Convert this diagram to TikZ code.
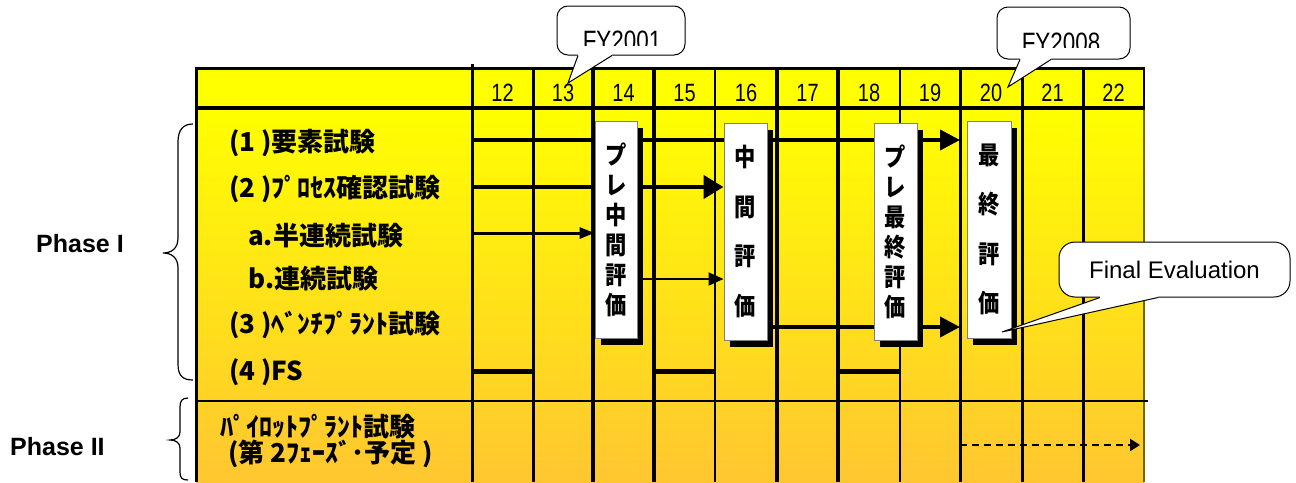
\documentclass[tikz,border=0pt]{standalone}
\usepackage{fontspec}
\setmainfont{Liberation Sans}
\newfontfamily\jpfont{Noto Sans CJK JP}
\newfontfamily\jpboxfont{Noto Sans CJK JP}[FakeStretch=0.85]
\newfontfamily\hdrfont{Liberation Sans}[FakeStretch=0.8]
\usetikzlibrary{arrows.meta,shadows,calc}
\pgfdeclarelayer{gridlayer}
\pgfdeclarelayer{arrowlayer}
\pgfsetlayers{gridlayer,arrowlayer,main}
\definecolor{ytop}{HTML}{FFFF00}
\definecolor{ybot}{HTML}{FFC631}
\definecolor{edgeolive}{HTML}{6B6B00}
\begin{document}
\begin{tikzpicture}[x=1pt,y=-1pt,
  gthick/.style={line width=4pt},
  gmid/.style={line width=3pt},
  gthin/.style={line width=1.5pt},
  hdrnum/.style={font=\hdrfont\fontsize{25}{25}\selectfont, anchor=base, inner sep=0pt},
  rowlabel/.style={font=\jpfont\bfseries\fontsize{26}{30}\selectfont, anchor=west, inner sep=0pt},
  phaselabel/.style={font=\bfseries\fontsize{25}{25}\selectfont, anchor=base west, inner sep=0pt},
  evalbox/.style={draw=gray, line width=1pt, fill=white, minimum width=43pt, minimum height=217pt,
    inner sep=0pt, align=center,
    drop shadow={shadow xshift=6pt, shadow yshift=-7pt, fill=black, opacity=1}},
  boxtight/.style={font=\jpboxfont\bfseries\fontsize{25}{30}\selectfont},
  boxwide/.style={font=\jpboxfont\bfseries\fontsize{25}{49.5}\selectfont},
  callout/.style={draw=black, line width=1pt, fill=white, rounded corners=11pt, inner sep=0pt},
  bigarrow/.style={line width=4pt, -{Triangle[length=20pt,width=20pt]}},
  midarrow/.style={line width=4.5pt, -{Triangle[length=20pt,width=23pt]}},
  smallarrow/.style={line width=3pt, -{Triangle[length=15pt,width=11pt]}},
  thinarrow/.style={line width=2pt, -{Triangle[length=15pt,width=13pt]}},
  dasharrow/.style={line width=2.5pt, dash pattern=on 7pt off 5pt, -{Triangle[length=10pt,width=12pt]}},
  fsbar/.style={line width=5pt}
]
\useasboundingbox (0,0) rectangle (1296,482);
\begin{pgfonlayer}{gridlayer}
% backgrounds
\fill[ytop] (196,68) rectangle (1144,108);
\shade[top color=ytop, bottom color=ybot] (196,108) rectangle (1144,482);
% vertical grid lines
\draw[gmid] (472,64) -- (472,482);
\draw[gmid] (533,68) -- (533,482);
\draw[gthick] (593,68) -- (593,482);
\draw[gthick] (654,68) -- (654,482);
\draw[gthin] (715,68) -- (715,482);
\draw[gthick] (777,68) -- (777,482);
\draw[line width=3.5pt] (838,68) -- (838,482);
\draw[gthin] (900,68) -- (900,482);
\draw[gmid] (960,68) -- (960,482);
\draw[gmid] (1022,68) -- (1022,482);
\draw[gmid] (1083,68) -- (1083,482);
\draw[line width=2pt] (1144,68) -- (1144,108);
\draw[line width=1.2pt, edgeolive] (1144,108) -- (1144,482);
% horizontal lines and border
\draw[line width=3pt] (196,68) -- (1145,68);
\draw[line width=4pt] (196,108) -- (1145,108);
\draw[line width=2.7pt] (196,401) -- (1148,401);
\draw[line width=3pt] (196,66.5) -- (196,482);
% FS bars
\draw[fsbar] (472,371) -- (533,371);
\draw[fsbar] (654,371) -- (715,371);
\draw[fsbar] (838,371) -- (900,371);
\end{pgfonlayer}
% header numbers
\node[hdrnum] (h12) at (502.5,101) {12};
\node[hdrnum] (h13) at (563,101) {13};
\node[hdrnum] (h14) at (623.5,101) {14};
\node[hdrnum] (h15) at (684.5,101) {15};
\node[hdrnum] (h16) at (746,101) {16};
\node[hdrnum] (h17) at (807.5,101) {17};
\node[hdrnum] (h18) at (869,101) {18};
\node[hdrnum] (h19) at (930,101) {19};
\node[hdrnum] (h20) at (991,101) {20};
\node[hdrnum] (h21) at (1052.5,101) {21};
\node[hdrnum] (h22) at (1113.5,101) {22};
% arrow start/end coordinates
\coordinate (s1) at (472,140);
\coordinate (e1) at (960,140);
\coordinate (s2) at (472,187);
\coordinate (sa) at (472,233);
\coordinate (sb) at (643,279);
\coordinate (s3) at (773,327);
\coordinate (e3) at (960,327);
\coordinate (d1) at (960,445);
\coordinate (d2) at (1140,445);
% evaluation boxes
\node[evalbox, boxtight, minimum width=42pt] (b1) at (616,229.5) {プ\\レ\\中\\間\\評\\価};
\node[evalbox, boxwide] (b2) at (745.5,231.5) {中\\間\\評\\価};
\node[evalbox, boxtight] (b3) at (895.5,231.5) {プ\\レ\\最\\終\\評\\価};
\node[evalbox, boxwide, minimum width=44pt] (b4) at (989,229.5) {最\\終\\評\\価};
% arrows (under the boxes)
\begin{pgfonlayer}{arrowlayer}
\draw[bigarrow] (s1) -- (e1);
\draw[midarrow] (s2) -- (b2.west |- s2);
\draw[smallarrow] (sa) -- (b1.west |- sa);
\draw[thinarrow] (sb) -- (b2.west |- sb);
\draw[bigarrow] (s3) -- (e3);
\draw[dasharrow] (d1) -- (d2);
\end{pgfonlayer}
% row labels
\node[rowlabel] (l1) at (229,143.5) {(1 )要素試験};
\node[rowlabel] (l2) at (229,189) {(2 )ﾌﾟﾛｾｽ確認試験};
\node[rowlabel] (la) at (248,236) {a.半連続試験};
\node[rowlabel] (lb) at (248,279) {b.連続試験};
\node[rowlabel] (l3) at (229,325) {(3 )ﾍﾞﾝﾁﾌﾟﾗﾝﾄ試験};
\node[rowlabel] (l4) at (229,372) {(4 )FS};
\node[rowlabel] (p1) at (220,427) {ﾊﾟｲﾛｯﾄﾌﾟﾗﾝﾄ試験};
\node[rowlabel] (p2) at (228,454) {(第 2ﾌｪｰｽﾞ･予定 )};
% braces
\draw[line width=1.2pt] (193,124) .. controls (183,124) and (178,130) .. (178,142) -- (178,238)
  .. controls (178,248) and (172,253) .. (163,253)
  .. controls (172,253) and (178,258) .. (178,268) -- (178,364)
  .. controls (178,376) and (183,380) .. (193,380);
\draw[line width=1.2pt] (188,398) .. controls (182,398) and (180,401) .. (180,407) -- (180,432)
  .. controls (180,437) and (176,440) .. (170,440)
  .. controls (176,440) and (180,443) .. (180,448) -- (180,472)
  .. controls (180,478) and (182,480) .. (188,480);
\node[phaselabel] (ph1) at (36,252) {Phase I};
\node[phaselabel] (ph2) at (10,455) {Phase II};
% callouts
\coordinate (t1) at (568,83);
\coordinate (t2) at (1008,87);
\coordinate (t3) at (1002,332);
\node[callout, minimum width=128pt, minimum height=49pt] (fy1) at (621,30.5) {};
\fill[white] ($(fy1.south)+(-43,-2)$) -- ($(fy1.south)+(-43,0)$) -- (t1) -- ($(fy1.south)+(-9,0)$) -- ($(fy1.south)+(-9,-2)$) -- cycle;
\draw[line width=1pt] ($(fy1.south)+(-43,0)$) -- (t1) -- ($(fy1.south)+(-9,0)$);
\begin{scope}
\clip (557,0) rectangle (686,45);
\node[font=\hdrfont\fontsize{28}{28}\selectfont, anchor=base, inner sep=0pt] (fy1t) at (622,50) {FY2001};
\end{scope}
\node[callout, minimum width=133pt, minimum height=52pt] (fy2) at (1063.5,33) {};
\fill[white] ($(fy2.south)+(-43.5,-2)$) -- ($(fy2.south)+(-43.5,0)$) -- (t2) -- ($(fy2.south)+(-12.5,0)$) -- ($(fy2.south)+(-12.5,-2)$) -- cycle;
\draw[line width=1pt] ($(fy2.south)+(-43.5,0)$) -- (t2) -- ($(fy2.south)+(-12.5,0)$);
\begin{scope}
\clip (997,0) rectangle (1131,47);
\node[font=\hdrfont\fontsize{28}{28}\selectfont, anchor=base, inner sep=0pt] (fy2t) at (1061,52) {FY2008};
\end{scope}
\node[callout, rounded corners=16pt, minimum width=231pt, minimum height=55pt,
  font=\fontsize{24}{24}\selectfont] (fe) at (1174.5,269.5) {\raisebox{-5pt}{Final Evaluation}};
\fill[white] ($(fe.south)+(-74.5,-2)$) -- ($(fe.south)+(-74.5,0)$) -- (t3) -- ($(fe.south)+(-16.5,0)$) -- ($(fe.south)+(-16.5,-2)$) -- cycle;
\draw[line width=1pt] ($(fe.south)+(-74.5,0)$) -- (t3) -- ($(fe.south)+(-16.5,0)$);
\end{tikzpicture}
\end{document}
